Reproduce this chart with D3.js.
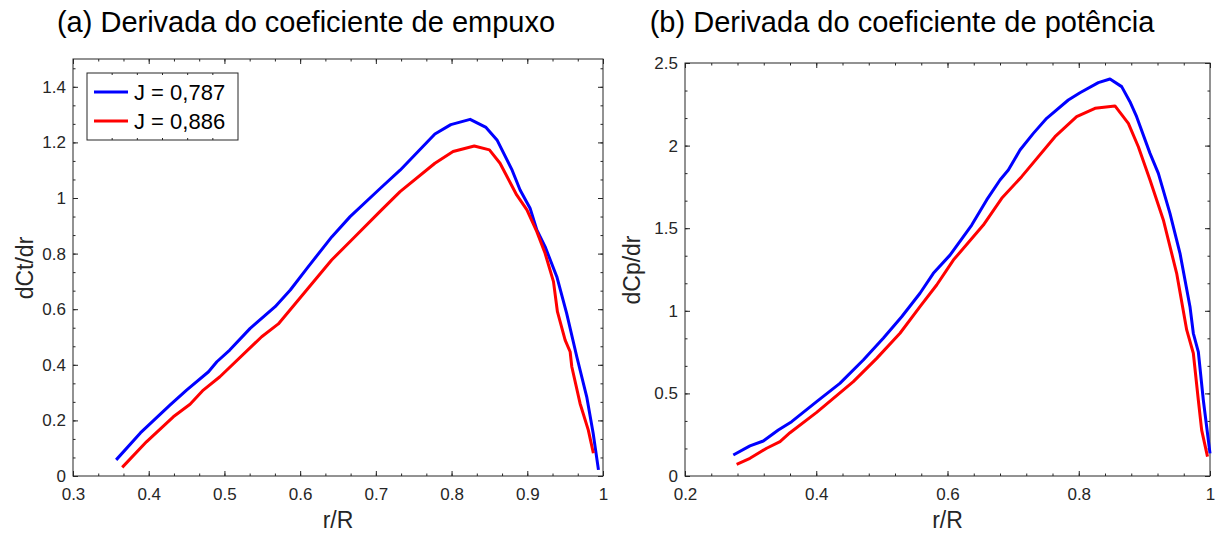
<!DOCTYPE html>
<html>
<head>
<meta charset="utf-8">
<script src="https://cdn.jsdelivr.net/npm/d3@7"></script>
<style>
  body { margin: 0; background: #fff; }
  svg text { font-family: 'Liberation Sans', Arial, Helvetica, sans-serif; }
</style>
</head>
<body>
<svg id="chart" width="1216" height="534"></svg>
<script>
'use strict'

// Series names and colours
var seriesNames = ['J = 0,787', 'J = 0,886']
var seriesColors = ['#0000ff', '#ff0000']

// (a) thrust coefficient derivative
var rCtA = [0.357, 0.389, 0.428, 0.450, 0.479, 0.490, 0.507, 0.534, 0.567, 0.587,
  0.609, 0.642, 0.666, 0.706, 0.732, 0.778, 0.799, 0.8245, 0.8455, 0.860,
  0.880, 0.8905, 0.9037, 0.9126, 0.9235, 0.939, 0.952, 0.9654, 0.9785, 0.987, 0.994]
var ctA = [0.058, 0.155, 0.255, 0.309, 0.375, 0.411, 0.453, 0.531, 0.609, 0.669,
  0.747, 0.861, 0.933, 1.035, 1.100, 1.230, 1.264, 1.283, 1.254, 1.209,
  1.100, 1.029, 0.963, 0.885, 0.825, 0.717, 0.585, 0.429, 0.285, 0.154, 0.022]
var rCtB = [0.365, 0.397, 0.4325, 0.4546, 0.4721, 0.494, 0.5492, 0.5712, 0.6086, 0.6416,
  0.6703, 0.7056, 0.732, 0.778, 0.802, 0.830, 0.850, 0.864, 0.886, 0.8995,
  0.9126, 0.9235, 0.9346, 0.9398, 0.950, 0.9566, 0.9588, 0.9697, 0.9806, 0.9873]
var ctB = [0.031, 0.123, 0.213, 0.258, 0.309, 0.357, 0.501, 0.547, 0.669, 0.777,
  0.855, 0.952, 1.023, 1.125, 1.167, 1.187, 1.173, 1.125, 1.011, 0.957,
  0.879, 0.801, 0.699, 0.591, 0.489, 0.447, 0.393, 0.261, 0.165, 0.082]

// (b) power coefficient derivative
var rCpA = [0.2736, 0.299, 0.3193, 0.3422, 0.3625, 0.4006, 0.436, 0.4717, 0.5021, 0.5302,
  0.5581, 0.5784, 0.6038, 0.6369, 0.6597, 0.680, 0.6927, 0.7105, 0.7308, 0.7511,
  0.7841, 0.8019, 0.8298, 0.8476, 0.8654, 0.878, 0.8882, 0.9086, 0.9213, 0.939,
  0.9543, 0.9695, 0.9746, 0.9822, 0.9898, 1.0]
var cpA = [0.127, 0.182, 0.212, 0.278, 0.329, 0.450, 0.561, 0.702, 0.834, 0.964,
  1.106, 1.227, 1.337, 1.519, 1.671, 1.792, 1.852, 1.973, 2.074, 2.165,
  2.276, 2.320, 2.381, 2.403, 2.357, 2.266, 2.175, 1.953, 1.832, 1.590,
  1.348, 1.025, 0.864, 0.752, 0.460, 0.137]
var rCpB = [0.2787, 0.299, 0.3244, 0.3448, 0.360, 0.4006, 0.4565, 0.4921, 0.5276, 0.5581,
  0.5835, 0.6089, 0.6546, 0.6826, 0.713, 0.7638, 0.7968, 0.8248, 0.8552, 0.8756,
  0.8908, 0.9086, 0.9289, 0.9492, 0.9645, 0.9746, 0.9822, 0.9873, 0.9962]
var cpB = [0.071, 0.107, 0.168, 0.208, 0.262, 0.385, 0.571, 0.712, 0.864, 1.025,
  1.156, 1.307, 1.519, 1.681, 1.812, 2.054, 2.175, 2.226, 2.240, 2.135,
  1.993, 1.792, 1.550, 1.227, 0.884, 0.743, 0.460, 0.278, 0.117]

// Tick values and labels
var xTicksA = [0.3, 0.4, 0.5, 0.6, 0.7, 0.8, 0.9, 1]
var xLabelsA = ['0.3', '0.4', '0.5', '0.6', '0.7', '0.8', '0.9', '1']
var yTicksA = [0, 0.2, 0.4, 0.6, 0.8, 1, 1.2, 1.4]
var yLabelsA = ['0', '0.2', '0.4', '0.6', '0.8', '1', '1.2', '1.4']
var xTicksB = [0.2, 0.4, 0.6, 0.8, 1]
var xLabelsB = ['0.2', '0.4', '0.6', '0.8', '1']
var yTicksB = [0, 0.5, 1, 1.5, 2, 2.5]
var yLabelsB = ['0', '0.5', '1', '1.5', '2', '2.5']

var svg = d3.select('#chart')
var axisColor = '#262626'

function drawPanel (p) {
  var x = d3.scaleLinear().domain(p.xDomain).range([p.left, p.right])
  var y = d3.scaleLinear().domain(p.yDomain).range([p.bottom, p.top])
  var g = svg.append('g')

  var xMinor = d3.range(p.xDomain[0], p.xDomain[1] + 1e-9, p.xMinor)
  var yMinor = d3.range(p.yDomain[0], p.yDomain[1] + 1e-9, p.yMinor)

  // Minor ticks on all four sides
  var minor = [
    [d3.axisBottom(x).tickValues(xMinor), 'translate(0,' + p.bottom + ')'],
    [d3.axisTop(x).tickValues(xMinor), 'translate(0,' + p.top + ')'],
    [d3.axisLeft(y).tickValues(yMinor), 'translate(' + p.left + ',0)'],
    [d3.axisRight(y).tickValues(yMinor), 'translate(' + p.right + ',0)']
  ]
  minor.forEach((m) => {
    g.append('g')
      .attr('transform', m[1])
      .call(m[0].tickSize(-2.5).tickSizeOuter(0).tickFormat(''))
  })

  // Major ticks, labels only on bottom and left
  var xAxis = g.append('g')
    .attr('transform', 'translate(0,' + p.bottom + ')')
    .call(d3.axisBottom(x).tickValues(p.xTicks)
      .tickFormat((d, i) => p.xLabels[i])
      .tickSize(-5).tickSizeOuter(0).tickPadding(12))
  var yAxis = g.append('g')
    .attr('transform', 'translate(' + p.left + ',0)')
    .call(d3.axisLeft(y).tickValues(p.yTicks)
      .tickFormat((d, i) => p.yLabels[i])
      .tickSize(-5).tickSizeOuter(0).tickPadding(7))
  g.append('g')
    .attr('transform', 'translate(0,' + p.top + ')')
    .call(d3.axisTop(x).tickValues(p.xTicks).tickSize(-5).tickSizeOuter(0).tickFormat(''))
  g.append('g')
    .attr('transform', 'translate(' + p.right + ',0)')
    .call(d3.axisRight(y).tickValues(p.yTicks).tickSize(-5).tickSizeOuter(0).tickFormat(''))

  g.selectAll('.domain').remove()
  g.selectAll('.tick line').attr('stroke', axisColor)
  g.selectAll('.tick text')
    .attr('fill', axisColor)
    .style('font-size', '17px')
    .style('font-family', "'Liberation Sans', Arial, sans-serif")

  // Box
  g.append('rect')
    .attr('x', p.left)
    .attr('y', p.top)
    .attr('width', p.right - p.left)
    .attr('height', p.bottom - p.top)
    .attr('fill', 'none')
    .attr('stroke', axisColor)
    .attr('stroke-width', 1)

  // Curves
  var line = d3.line()
    .x((d) => x(d[0]))
    .y((d) => y(d[1]))
  p.series.forEach((s, i) => {
    g.append('path')
      .datum(d3.zip(s[0], s[1]))
      .attr('fill', 'none')
      .attr('stroke', seriesColors[i])
      .attr('stroke-width', 3)
      .attr('stroke-linejoin', 'round')
      .attr('d', line)
  })

  // Labels
  g.append('text')
    .attr('x', p.titleX)
    .attr('y', 32)
    .attr('text-anchor', 'middle')
    .style('font-size', '29px')
    .attr('fill', '#000')
    .text(p.title)
  g.append('text')
    .attr('x', (p.left + p.right) / 2)
    .attr('y', 528)
    .attr('text-anchor', 'middle')
    .style('font-size', '23px')
    .attr('fill', axisColor)
    .text('r/R')
  g.append('text')
    .attr('transform', 'translate(' + p.yLabelX + ',' + p.yLabelY + ') rotate(-90)')
    .attr('text-anchor', 'middle')
    .style('font-size', '23px')
    .attr('fill', axisColor)
    .text(p.yLabel)

  return { g: g, x: x, y: y }
}

var panelA = drawPanel({
  left: 73, right: 603, top: 59, bottom: 476,
  xDomain: [0.3, 1], yDomain: [0, 1.5],
  xTicks: xTicksA, xLabels: xLabelsA, yTicks: yTicksA, yLabels: yLabelsA,
  xMinor: 0.1 / 3, yMinor: 0.2 / 3,
  series: [[rCtA, ctA], [rCtB, ctB]],
  title: '(a) Derivada do coeficiente de empuxo', titleX: 306,
  yLabel: 'dCt/dr', yLabelX: 33, yLabelY: 268
})

drawPanel({
  left: 685, right: 1210, top: 63, bottom: 476,
  xDomain: [0.2, 1], yDomain: [0, 2.5],
  xTicks: xTicksB, xLabels: xLabelsB, yTicks: yTicksB, yLabels: yLabelsB,
  xMinor: 0.04, yMinor: 0.5 / 3,
  series: [[rCpA, cpA], [rCpB, cpB]],
  title: '(b) Derivada do coeficiente de potência', titleX: 902,
  yLabel: 'dCp/dr', yLabelX: 640, yLabelY: 270
})

// Legend in panel (a)
var legend = panelA.g.append('g').attr('transform', 'translate(87,73)')
legend.append('rect')
  .attr('width', 151)
  .attr('height', 67)
  .attr('fill', '#fff')
  .attr('stroke', axisColor)
  .attr('stroke-width', 1)
// small ticks on the legend frame
legend.selectAll('.lt')
  .data(d3.range(1, 6))
  .enter().append('path')
  .attr('stroke', axisColor)
  .attr('d', (d) => 'M' + d * 151 / 6 + ',0v2M' + d * 151 / 6 + ',67v-2')
seriesNames.forEach((name, i) => {
  var row = legend.append('g').attr('transform', 'translate(0,' + (19 + i * 29) + ')')
  row.append('line')
    .attr('x1', 7).attr('x2', 41)
    .attr('stroke', seriesColors[i])
    .attr('stroke-width', 3)
  row.append('text')
    .attr('x', 47)
    .attr('y', 8)
    .style('font-size', '22px')
    .attr('fill', '#000')
    .text(name)
})
</script>
</body>
</html>
